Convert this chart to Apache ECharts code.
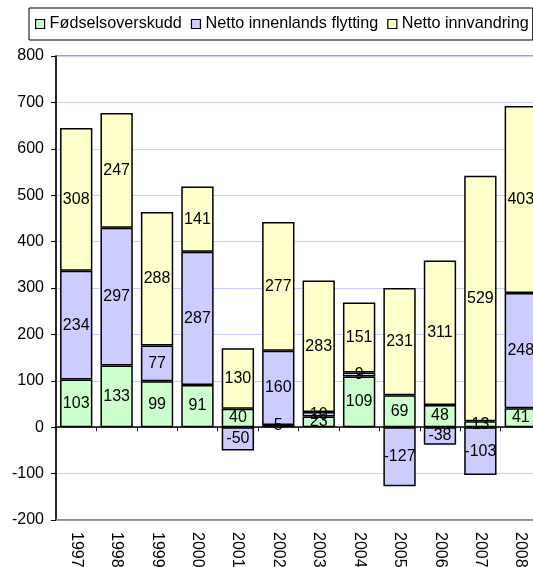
<!DOCTYPE html>
<html>
<head>
<meta charset="utf-8">
<script src="https://cdn.jsdelivr.net/npm/echarts@6/dist/echarts.min.js"></script>
<style>html,body{margin:0;padding:0;background:#fff;}#c{width:533px;height:567px;}</style>
</head>
<body>
<div id="c"></div>
<script>
var years = ['1997','1998','1999','2000','2001','2002','2003','2004','2005','2006','2007','2008'];
var fodsel = [103, 133, 99, 91, 40, 5, 23, 109, 69, 48, 13, 41];
var innenlands = [234, 297, 77, 287, -50, 160, 10, 9, -127, -38, -103, 248];
var innvandring = [308, 247, 288, 141, 130, 277, 283, 151, 231, 311, 529, 403];
var seriesNames = ['Fødselsoverskudd', 'Netto innenlands flytting', 'Netto innvandring'];
var seriesColors = ['#ccffcc', '#ccccff', '#ffffcc'];
var yTicks = {min: -200, max: 800, interval: 100};

var font = 'Arial, "Liberation Sans", sans-serif';
var chart = echarts.init(document.getElementById('c'));
function mk(name, data, color) {
  return {
    name: name, type: 'bar', stack: 'total', data: data,
    xAxisIndex: 0, yAxisIndex: 0,
    barCategoryGap: '20%',
    itemStyle: {color: color, borderColor: '#000', borderWidth: 1.5},
    label: {show: true, position: 'inside', color: '#000', fontFamily: font, fontSize: 16},
    emphasis: {disabled: true}
  };
}
chart.setOption({
  animation: false,
  backgroundColor: '#fff',
  legend: {
    left: 29, top: 8,
    padding: [8, 4, 8, 6],
    borderColor: '#000', borderWidth: 1,
    itemWidth: 9, itemHeight: 9, itemGap: 9,
    icon: 'rect',
    textStyle: {fontFamily: font, fontSize: 16.2, color: '#000'},
    data: seriesNames.map(function (n) { return {name: n, itemStyle: {borderColor: '#000', borderWidth: 1.2}}; })
  },
  grid: {left: 56, top: 56, width: 485, height: 464, show: true, borderColor: '#888', borderWidth: 1.5, outerBoundsMode: 'none', containLabel: false},
  xAxis: [{
    type: 'category', data: years, position: 'bottom',
    axisLine: {onZero: false, lineStyle: {color: '#888', width: 1.5}},
    axisTick: {show: false},
    axisLabel: {rotate: -90, fontFamily: font, fontSize: 16, color: '#000', margin: 12}
  }, {
    type: 'category', data: years, position: 'top',
    axisLine: {onZero: true, lineStyle: {color: '#000', width: 1.5}},
    axisTick: {show: true, inside: true, length: 4, lineStyle: {color: '#000'}},
    axisLabel: {show: false}
  }],
  yAxis: {
    type: 'value', min: yTicks.min, max: yTicks.max, interval: yTicks.interval,
    axisLine: {show: true, lineStyle: {color: '#000', width: 1.5}},
    axisTick: {show: true, length: 5, lineStyle: {color: '#000'}},
    axisLabel: {fontFamily: font, fontSize: 16, color: '#000', margin: 12},
    splitLine: {lineStyle: {color: '#ccccff', width: 1}}
  },
  series: [
    mk(seriesNames[0], fodsel, seriesColors[0]),
    mk(seriesNames[1], innenlands, seriesColors[1]),
    mk(seriesNames[2], innvandring, seriesColors[2])
  ]
});
</script>
</body>
</html>
